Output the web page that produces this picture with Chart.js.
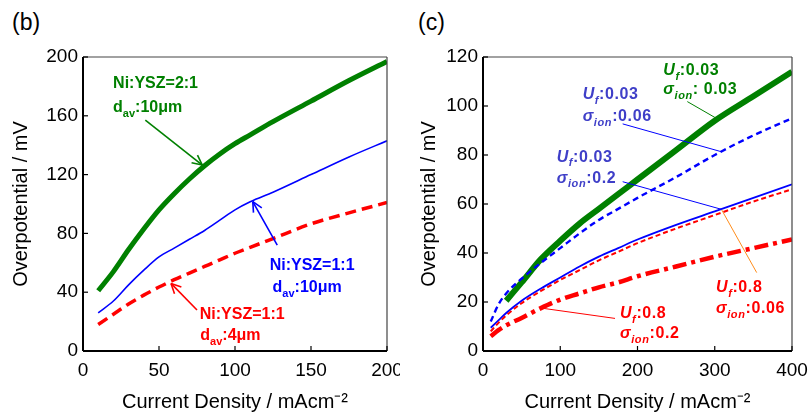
<!DOCTYPE html>
<html>
<head>
<meta charset="utf-8">
<script src="https://cdn.jsdelivr.net/npm/chart.js@4.4.0/dist/chart.umd.min.js"></script>
<style>
  body { margin: 0; background: #fff; width: 812px; height: 414px; position: relative; overflow: hidden; font-family: "Liberation Sans", Arial, sans-serif; }
  .panel { position: absolute; top: 0; }
  .tag { position: absolute; font-size: 23px; color: #000; }
</style>
</head>
<body>
<div class="tag" style="left:12px;top:9px">(b)</div>
<div class="tag" style="left:418px;top:9px">(c)</div>
<canvas id="chartB" class="panel" width="400" height="414" style="left:0"></canvas>
<canvas id="chartC" class="panel" width="412" height="414" style="left:400px"></canvas>
<script>
// panel (b): current density (mA/cm2) vs overpotential (mV)
const bCurrent = [10, 20, 30, 40, 50, 60, 70, 80, 90, 100, 110, 125, 150, 175, 200];
const bNiYsz21 = [41, 54, 69, 83, 96, 107, 117, 126, 134, 141, 147, 156, 170, 184, 197];
const bNiYsz11 = [26, 34, 45, 55, 64, 70, 76, 82, 89, 96, 101.5, 108, 120, 132, 143];
const bNiYsz11d4 = [18, 25, 32, 38, 43.5, 48.5, 53, 57.5, 62, 66.5, 70.5, 76.5, 86.5, 94, 101];
const bTicksX = [0, 50, 100, 150, 200];
const bTicksY = [0, 40, 80, 120, 160, 200];

// panel (c)
const cCurrent = [10, 20, 30, 50, 75, 100, 125, 150, 175, 200, 250, 300, 350, 400];
const cUf003Sig003 = [null, null, 20.5, 28, 37.5, 45, 52, 58, 64, 70, 82, 94, 104, 114];
const cUf003Sig006 = [12, 19, 23.5, 29.5, 36, 42, 48, 53.5, 58, 62.5, 71, 80, 88, 95];
const cUf003Sig02 = [9.5, 12.5, 15.5, 20.5, 25.5, 30, 34.5, 38.5, 42, 45.5, 51.5, 57, 62.5, 68];
const cUf08Sig006 = [8, 11.5, 14.5, 19.5, 24.5, 29, 33, 37, 40.5, 44, 50, 55.5, 61, 66];
const cUf08Sig02 = [6, 8.5, 10.5, 13.5, 17.5, 21, 23.5, 26, 28, 30.5, 34.5, 38.5, 42, 45.5];
const cTicksX = [0, 100, 200, 300, 400];
const cTicksY = [0, 20, 40, 60, 80, 100, 120];

const GREEN = '#008000';
const RED = '#ff0000';
const BLUE = '#0000ff';
const SLATE = '#3f3fc8';
const FONT = '"Liberation Sans", Arial, sans-serif';

function series(xs, ys, color, width, dash) {
  return {
    data: xs.map((x, i) => ({ x, y: ys[i] })).filter(p => p.y !== null),
    borderColor: color,
    borderWidth: width,
    borderDash: dash || [],
    pointRadius: 0,
    fill: false,
    cubicInterpolationMode: 'monotone'
  };
}

function richText(ctx, parts, x, y, size, color, spacing) {
  let cx = x;
  ctx.fillStyle = color;
  ctx.textBaseline = 'alphabetic';
  ctx.textAlign = 'left';
  if ('letterSpacing' in ctx) ctx.letterSpacing = spacing + 'px';
  parts.forEach(([text, kind]) => {
    kind = kind || '';
    const sub = kind.includes('sub');
    const it = kind.includes('i');
    const fs = sub ? Math.round(size * 0.66) : size;
    ctx.font = `${it ? 'italic ' : ''}bold ${fs}px ${FONT}`;
    ctx.fillText(text, cx, y + (sub ? size * 0.3 : 0));
    cx += ctx.measureText(text).width;
  });
  if ('letterSpacing' in ctx) ctx.letterSpacing = '0px';
}

function segment(ctx, x1, y1, x2, y2) {
  ctx.beginPath();
  ctx.moveTo(x1, y1);
  ctx.lineTo(x2, y2);
  ctx.stroke();
}

// frame, inward ticks, leaders, arrows and labels
const overlay = {
  id: 'overlay',
  afterDraw(chart, args, opts) {
    const { ctx, chartArea: a, scales: { x, y } } = chart;
    ctx.save();
    ctx.strokeStyle = '#444';
    ctx.lineWidth = 1.2;
    segment(ctx, a.left, a.top, a.right, a.top);
    segment(ctx, a.right, a.top, a.right, a.bottom);
    ctx.strokeStyle = '#000';
    ctx.lineWidth = 2;
    segment(ctx, a.left, a.top, a.left, a.bottom);
    segment(ctx, a.left, a.bottom, a.right, a.bottom);
    ctx.lineWidth = 1.2;
    x.ticks.forEach(t => {
      const px = x.getPixelForValue(t.value);
      segment(ctx, px, a.bottom, px, a.bottom - 5);
    });
    y.ticks.forEach(t => {
      const py = y.getPixelForValue(t.value);
      segment(ctx, a.left, py, a.left + 5, py);
    });

    (opts.leaders || []).forEach(l => {
      ctx.strokeStyle = l.color;
      ctx.lineWidth = 1;
      segment(ctx, x.getPixelForValue(l.from[0]), y.getPixelForValue(l.from[1]),
        x.getPixelForValue(l.to[0]), y.getPixelForValue(l.to[1]));
    });

    (opts.arrows || []).forEach(l => {
      const x1 = x.getPixelForValue(l.from[0]), y1 = y.getPixelForValue(l.from[1]);
      const x2 = x.getPixelForValue(l.to[0]), y2 = y.getPixelForValue(l.to[1]);
      const ang = Math.atan2(y2 - y1, x2 - x1);
      ctx.strokeStyle = l.color;
      ctx.lineWidth = 1.6;
      segment(ctx, x1, y1, x2, y2);
      [0.45, -0.45].forEach(d => {
        segment(ctx, x2, y2, x2 - 11 * Math.cos(ang + d), y2 - 11 * Math.sin(ang + d));
      });
    });

    (opts.notes || []).forEach(n => {
      richText(ctx, n.parts, x.getPixelForValue(n.x), y.getPixelForValue(n.y),
        opts.size, n.color, opts.spacing || 0);
    });
    ctx.restore();
  }
};

function makeOptions(xMax, xStep, yMax, yStep, titlePad, padRight, overlayOpts) {
  return {
    responsive: false,
    animation: false,
    events: [],
    layout: { padding: { top: 57, right: padRight, bottom: 0, left: 0 } },
    plugins: { legend: { display: false }, tooltip: { enabled: false }, overlay: overlayOpts },
    scales: {
      x: {
        type: 'linear', min: 0, max: xMax,
        grid: { display: false, drawTicks: false },
        border: { display: false },
        ticks: { stepSize: xStep, padding: 8, color: '#000', font: { family: FONT, size: 19 } },
        title: { display: true, text: 'Current Density / mAcm⁻²', color: '#000',
          font: { family: FONT, size: 20 }, padding: { top: 0, bottom: 0 } },
        afterFit(scale) { scale.height = 63; scale.paddingLeft = 0; scale.paddingRight = 0; }
      },
      y: {
        type: 'linear', min: 0, max: yMax,
        grid: { display: false, drawTicks: false },
        border: { display: false },
        ticks: { stepSize: yStep, padding: 5, color: '#000', font: { family: FONT, size: 19 } },
        title: { display: true, text: 'Overpotential / mV', color: '#000',
          font: { family: FONT, size: 20 }, padding: { top: titlePad, bottom: 0 } },
        afterFit(scale) { scale.width = 83; }
      }
    }
  };
}

new Chart(document.getElementById('chartB'), {
  type: 'line',
  data: {
    datasets: [
      series(bCurrent, bNiYsz11d4, RED, 3.5, [11, 6]),
      series(bCurrent, bNiYsz11, BLUE, 1.6),
      series(bCurrent, bNiYsz21, GREEN, 5)
    ]
  },
  options: makeOptions(200, 50, 200, 40, 9, 13, {
    size: 16,
    notes: [
      { x: 19.8, y: 179, color: GREEN, parts: [['Ni:YSZ=2:1']] },
      { x: 19.8, y: 162.5, color: GREEN, parts: [['d'], ['av', 'sub'], [':10μm']] },
      { x: 122.8, y: 55, color: BLUE, parts: [['Ni:YSZ=1:1']] },
      { x: 124.7, y: 40.3, color: BLUE, parts: [['d'], ['av', 'sub'], [':10μm']] },
      { x: 76.8, y: 21.6, color: RED, parts: [['Ni:YSZ=1:1']] },
      { x: 77.2, y: 7.5, color: RED, parts: [['d'], ['av', 'sub'], [':4μm']] }
    ],
    arrows: [
      { from: [41, 157], to: [78.5, 126.5], color: GREEN },
      { from: [127.8, 72], to: [111.7, 101.6], color: BLUE },
      { from: [75, 27.9], to: [57.9, 46], color: RED }
    ]
  }),
  plugins: [overlay]
});

new Chart(document.getElementById('chartC'), {
  type: 'line',
  data: {
    datasets: [
      series(cCurrent, cUf08Sig02, RED, 4.5, [14, 5, 4, 5]),
      series(cCurrent, cUf08Sig006, RED, 2, [5, 3]),
      series(cCurrent, cUf003Sig02, BLUE, 1.8),
      series(cCurrent, cUf003Sig006, BLUE, 2.4, [6, 4]),
      series(cCurrent, cUf003Sig003, GREEN, 6)
    ]
  },
  options: makeOptions(400, 100, 120, 20, 17, 20, {
    size: 16,
    spacing: 0.6,
    notes: [
      { x: 233.4, y: 112.7, color: GREEN, parts: [['U', 'i'], ['f', 'isub'], [':0.03']] },
      { x: 233.4, y: 104.8, color: GREEN, parts: [['σ', 'i'], ['ion', 'isub'], [': 0.03']] },
      { x: 129, y: 102.7, color: SLATE, parts: [['U', 'i'], ['f', 'isub'], [':0.03']] },
      { x: 129, y: 94, color: SLATE, parts: [['σ', 'i'], ['ion', 'isub'], [':0.06']] },
      { x: 95.4, y: 77.3, color: SLATE, parts: [['U', 'i'], ['f', 'isub'], [':0.03']] },
      { x: 95.4, y: 68.7, color: SLATE, parts: [['σ', 'i'], ['ion', 'isub'], [':0.2']] },
      { x: 301.6, y: 24.2, color: RED, parts: [['U', 'i'], ['f', 'isub'], [':0.8']] },
      { x: 301.6, y: 15.4, color: RED, parts: [['σ', 'i'], ['ion', 'isub'], [':0.06']] },
      { x: 177.3, y: 13.3, color: RED, parts: [['U', 'i'], ['f', 'isub'], [':0.8']] },
      { x: 177.3, y: 5.2, color: RED, parts: [['σ', 'i'], ['ion', 'isub'], [':0.2']] }
    ],
    leaders: [
      { from: [264.5, 101.8], to: [300.3, 95.3], color: GREEN },
      { from: [180.8, 92.7], to: [309, 81.3], color: BLUE },
      { from: [180.8, 69.1], to: [309, 57.8], color: BLUE },
      { from: [354.3, 32], to: [309, 57.6], color: '#ff8c1a' },
      { from: [170.9, 13.3], to: [78.1, 17.4], color: RED }
    ]
  }),
  plugins: [overlay]
});
</script>
</body>
</html>
